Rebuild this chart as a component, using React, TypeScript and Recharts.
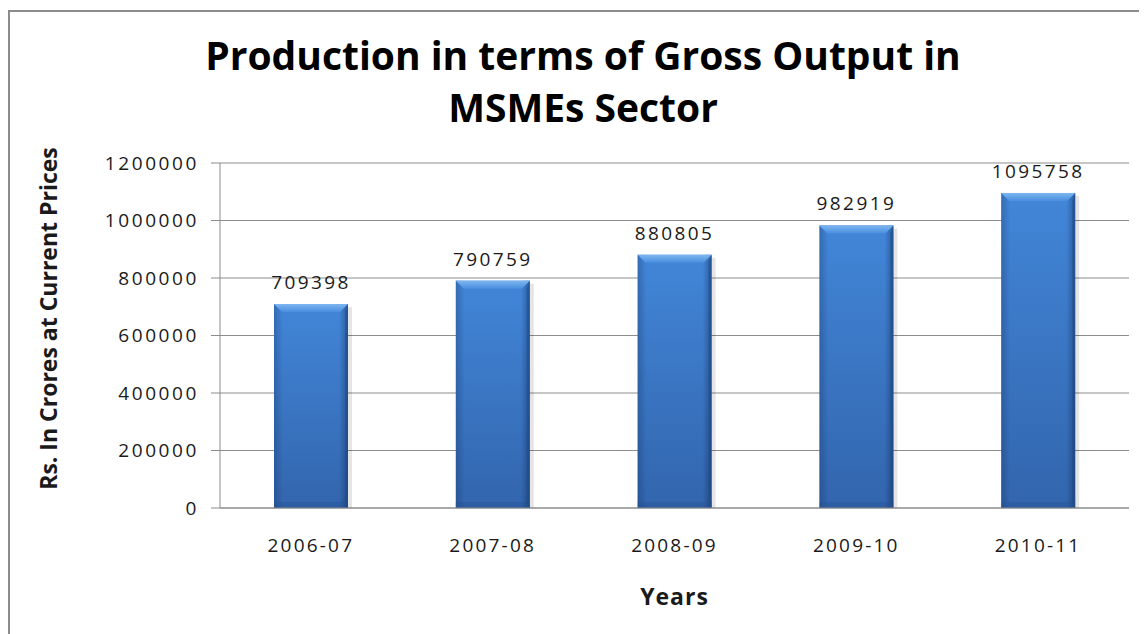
import { BarChart, Bar, XAxis, YAxis, CartesianGrid, LabelList, Label } from "recharts"

const years = ["2006-07", "2007-08", "2008-09", "2009-10", "2010-11"]
const grossOutput = [709398, 790759, 880805, 982919, 1095758]
const yTicks = [0, 200000, 400000, 600000, 800000, 1000000, 1200000]

const data = years.map((year, i) => ({ year, value: grossOutput[i] }))

const FONT = "'Open Sans', sans-serif"
const TEXT = "#1a1a1a"

// bevelled bar like the old office charts
function BevelBar(props: any) {
    const { x, y, width, height, index } = props
    if (!height || height <= 0) return null
    const b = 8
    const id = `bar-${index}`
    return (
        <g>
            <defs>
                <linearGradient id={`${id}-v`} x1="0" y1="0" x2="0" y2="1">
                    <stop offset="0%" stopColor="#4286d8" />
                    <stop offset="100%" stopColor="#3265ad" />
                </linearGradient>
                <linearGradient id={`${id}-h`} x1="0" y1="0" x2="1" y2="0">
                    <stop offset="0%" stopColor="#0a1e46" stopOpacity={0.25} />
                    <stop offset="12%" stopColor="#0a1e46" stopOpacity={0} />
                    <stop offset="88%" stopColor="#0a1e46" stopOpacity={0} />
                    <stop offset="100%" stopColor="#0a1e46" stopOpacity={0.4} />
                </linearGradient>
                <linearGradient id={`${id}-t`} x1="0" y1="0" x2="0" y2="1">
                    <stop offset="0%" stopColor="#7db6f0" />
                    <stop offset="100%" stopColor="#4a8ee0" />
                </linearGradient>
            </defs>
            <rect x={x + width} y={y + 3} width={4} height={height - 3} fill="#000" opacity={0.1} />
            <rect x={x} y={y} width={width} height={height} fill={`url(#${id}-v)`} />
            <rect x={x} y={y} width={width} height={height} fill={`url(#${id}-h)`} />
            <polygon
                points={`${x},${y} ${x + width},${y} ${x + width - b},${y + b} ${x + b},${y + b}`}
                fill={`url(#${id}-t)`}
            />
            <polygon
                points={`${x + width},${y} ${x + width},${y + height} ${x + width - 3},${y + height - 3} ${x + width - 3},${y + b}`}
                fill="#1f4a85"
                opacity={0.5}
            />
            <rect x={x} y={y + height - 6} width={width} height={6} fill="#24508f" opacity={0.35} />
        </g>
    )
}

function YTitle(props: any) {
    const vb = props.viewBox || {}
    const cx = vb.x + 38
    const cy = vb.y + vb.height / 2 - 17
    return (
        <text
            x={cx}
            y={cy}
            transform={`rotate(-90, ${cx}, ${cy})`}
            textAnchor="middle"
            dominantBaseline="central"
            fontFamily={FONT}
            fontWeight={700}
            fontSize={23}
            fill={TEXT}
        >
            Rs. In Crores at Current Prices
        </text>
    )
}

function XTitle(props: any) {
    const vb = props.viewBox || {}
    return (
        <text
            x={vb.x + vb.width / 2}
            y={vb.y + 97}
            textAnchor="middle"
            fontFamily={FONT}
            fontWeight={700}
            fontSize={23}
            letterSpacing={1}
            fill={TEXT}
        >
            Years
        </text>
    )
}

export default function App() {
    return (
        <div
            style={{
                position: "relative",
                top: 2,
                width: 1139,
                height: 624,
                borderTop: "2px solid #8c8c8c",
                borderLeft: "2px solid #8c8c8c",
                background: "#fff",
                fontFamily: FONT,
            }}
        >
            <div
                style={{
                    position: "absolute",
                    left: 573,
                    top: 17,
                    transform: "translateX(-50%)",
                    whiteSpace: "nowrap",
                    textAlign: "center",
                    fontWeight: 700,
                    fontSize: 39,
                    lineHeight: "52px",
                    color: "#000",
                }}
            >
                <div>Production in terms of Gross Output in</div>
                <div>MSMEs Sector</div>
            </div>
            <BarChart
                width={1137}
                height={622}
                data={data}
                margin={{ top: 151, right: 18, left: 0, bottom: 66 }}
                barSize={74}
            >
                <CartesianGrid vertical={false} stroke="#8c8c8c" strokeWidth={1} />
                <XAxis
                    dataKey="year"
                    height={60}
                    tickLine={false}
                    tickSize={0}
                    tickMargin={31}
                    axisLine={{ stroke: "#8c8c8c" }}
                    tick={{ fill: TEXT, fontSize: 19, fontFamily: FONT, letterSpacing: 2.2 }}
                >
                    <Label content={<XTitle />} />
                </XAxis>
                <YAxis
                    width={210}
                    domain={[0, 1200000]}
                    ticks={yTicks}
                    interval={0}
                    tickSize={9}
                    tickMargin={12}
                    tickLine={{ stroke: "#8c8c8c" }}
                    axisLine={{ stroke: "#8c8c8c" }}
                    tick={{ fill: TEXT, fontSize: 19, fontFamily: FONT, letterSpacing: 2.6 }}
                >
                    <Label content={<YTitle />} />
                </YAxis>
                <Bar dataKey="value" shape={<BevelBar />} isAnimationActive={false}>
                    <LabelList
                        dataKey="value"
                        position="top"
                        offset={15}
                        fill={TEXT}
                        fontSize={19}
                        fontFamily={FONT}
                        letterSpacing={2.4}
                    />
                </Bar>
            </BarChart>
        </div>
    )
}
